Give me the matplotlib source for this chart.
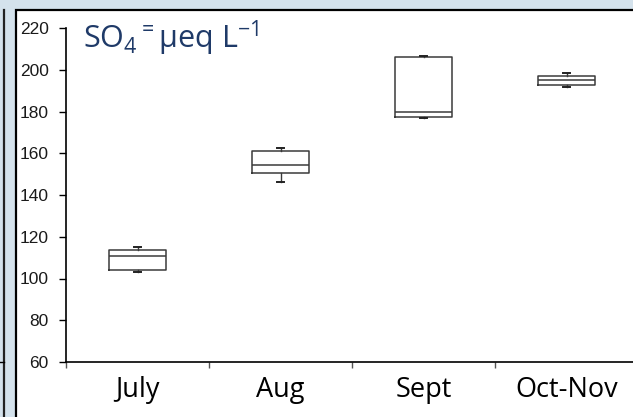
import matplotlib
matplotlib.use("Agg")
import matplotlib.pyplot as plt
from matplotlib.patches import Rectangle
from matplotlib.lines import Line2D

# Monthly sulfate concentration summaries (μeq/L)
months = ["July", "Aug", "Sept", "Oct-Nov"]
whislo = [103.1, 146.1, 176.7, 191.6]
q1 = [104.0, 150.4, 177.2, 192.7]
median = [110.9, 154.4, 179.9, 195.2]
q3 = [113.5, 161.1, 206.3, 197.2]
whishi = [115.2, 162.7, 206.6, 198.4]

plt.rcParams["mathtext.default"] = "regular"

W, H = 633, 417
fig = plt.figure(figsize=(W / 100, H / 100), dpi=100)
fig.patch.set_facecolor("#d4e2ec")

# white slide panel with dark frame
fig.patches.append(Rectangle((16 / W, -0.1), 1.2, (H - 10) / H + 0.1,
                             transform=fig.transFigure, facecolor="white",
                             edgecolor="black", linewidth=1.6, zorder=-5))
fig.lines.append(Line2D([4 / W, 4 / W], [0, (H - 10) / H], transform=fig.transFigure,
                        color="#222222", linewidth=1.6, zorder=-4))
fig.lines.append(Line2D([0, 4 / W], [55 / H, 55 / H], transform=fig.transFigure,
                        color="black", linewidth=1.0, zorder=-4))

ax = fig.add_axes([66 / W, 55 / H, 572 / W, 334 / H])
ax.set_facecolor("none")

stats = []
for i, m in enumerate(months):
    stats.append(dict(label=m, whislo=whislo[i], q1=q1[i], med=median[i],
                      q3=q3[i], whishi=whishi[i], fliers=[]))
pos = [i + 0.5 for i in range(len(months))]
ax.bxp(stats, positions=pos, widths=0.405, capwidths=0.05,
       boxprops=dict(color="#3a3a3a", linewidth=1.1),
       medianprops=dict(color="#3a3a3a", linewidth=1.1),
       whiskerprops=dict(color="#3a3a3a", linewidth=1.0),
       capprops=dict(color="#222222", linewidth=1.4))

ax.set_xlim(0, len(months))
ax.set_ylim(60, 220)
ax.set_yticks(range(60, 221, 20))
ax.set_xticks(range(len(months) + 1))
ax.set_xticklabels([])
ax.set_xticks(pos, minor=True)
ax.set_xticklabels(months, minor=True, fontsize=19.5, family="Open Sans", color="black")
ax.tick_params(axis="x", which="major", direction="out", length=4, width=1, color="#555555")
ax.tick_params(axis="x", which="minor", length=0, pad=10)
ax.tick_params(axis="y", direction="out", length=5, width=1, pad=7.5,
               labelsize=12.5, labelcolor="#1a1a1a")
for lab in ax.get_yticklabels():
    lab.set_family("Liberation Sans")

for s in ["top", "right"]:
    ax.spines[s].set_visible(False)
for s in ["left", "bottom"]:
    ax.spines[s].set_linewidth(1.2)
    ax.spines[s].set_color("black")

fig.text(83 / W, 1 - 48 / H, "SO$_4$$^=$μeq L$^{-1}$", fontsize=22,
         family="Open Sans", color="#1f3a68", va="baseline", ha="left")

fig.savefig("out.png", dpi=100, facecolor=fig.get_facecolor())
